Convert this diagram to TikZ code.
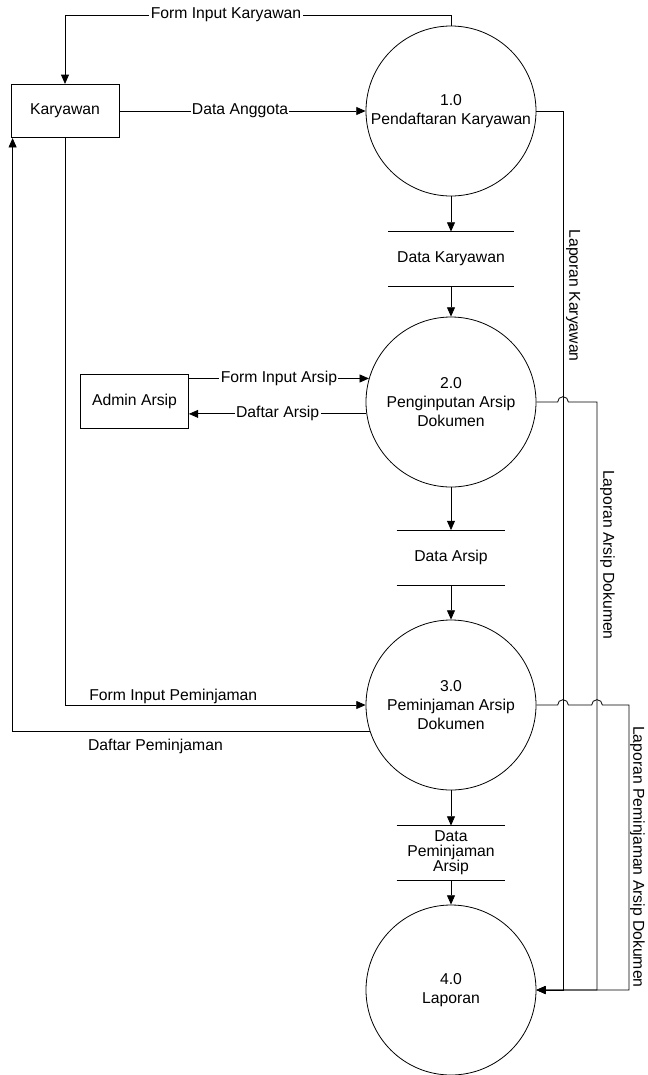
\documentclass[tikz,border=0pt]{standalone}
\usepackage{fontspec}
\setmainfont{Liberation Sans}
\usetikzlibrary{arrows.meta,calc,positioning}

\begin{document}
\begin{tikzpicture}[x=0.75pt,y=-0.75pt,line width=0.6pt,
every node/.style={font=\fontsize{11.8}{14.5}\selectfont},
entity/.style={
rectangle,
draw,
minimum width=81pt,
minimum height=40pt
},
process/.style={
circle,
draw,
minimum size=127.5pt,
inner sep=0pt,
align=center
},
store/.style={
minimum width=81pt,
minimum height=40.5pt,
inner sep=0pt,
align=center,
append after command={(\tikzlastnode.north west) edge (\tikzlastnode.north east)
(\tikzlastnode.south west) edge (\tikzlastnode.south east)}
},
flow/.style={->,>={Triangle[length=7pt,width=6pt]}},
lbl/.style={fill=white,inner sep=1pt},
vlbl/.style={rotate=-90,anchor=south,inner sep=2pt},
]
\useasboundingbox (0,0) rectangle (648,1075);
\node (karyawan) [entity] at (65,111) {Karyawan};
\node (admin) [entity] at (134.5,401.5) {Admin Arsip};
\node (reg) [process] at (451,111) {1.0\\Pendaftaran Karyawan};
\node (input) [process] at (451,402) {2.0\\Penginputan Arsip\\Dokumen};
\node (pinjam) [process] at (451,705) {3.0\\Peminjaman Arsip\\Dokumen};
\node (lap) [process] at (451,990) {4.0\\Laporan};
\node (dkar) [store,minimum width=93.75pt] at (451,259) {Data Karyawan};
\node (darsip) [store] at (451,557.5) {Data Arsip};
\node (dpinjam) [store,font=\fontsize{11.8}{11.2}\selectfont] at (451,853) {Data\\Peminjaman\\Arsip};
\coordinate (rk) at (563,0);
\coordinate (ra) at (597,0);
\coordinate (rp) at (629,0);
\draw[flow] (reg.north) -- (reg.north |- 0,15) -- node[lbl,pos=0.583] {Form Input Karyawan} (karyawan.north |- 0,15) -- (karyawan.north);
\draw[flow] (karyawan.east) -- node[lbl,pos=0.49] {Data Anggota} (reg.west);
\draw[flow] (reg.south) -- (dkar.north);
\draw[flow] (dkar.south) -- (input.north);
\draw[flow] (input.164 -| admin.east) -- node[lbl] {Form Input Arsip} (input.164);
\draw[flow] (input.188) -- node[lbl] {Daftar Arsip} (input.188 -| admin.east);
\draw[flow] (input.south) -- (darsip.north);
\draw[flow] (darsip.south) -- (pinjam.north);
\draw[flow] (karyawan.south) -- (karyawan.south |- pinjam.west) -- node[above,inner sep=1pt,pos=0.36] {Form Input Peminjaman} (pinjam.west);
\draw[flow] (pinjam.198) -| node[below=2pt,pos=0.3] {Daftar Peminjaman} ($(karyawan.south west)+(1.5pt,0)$);
\draw[flow] (pinjam.south) -- (dpinjam.north);
\draw[flow] (dpinjam.south) -- (lap.north);
\draw[flow] (reg.east) -- (reg.east -| rk) -- node[vlbl,pos=0.21] {Laporan Karyawan} (lap.east -| rk) -- (lap.east);
\draw[flow] (input.east) -- ($(input.east -| rk)+(-4pt,0)$) arc[start angle=180,end angle=0,radius=4pt] -- (input.east -| ra) -- node[vlbl,pos=0.26] {Laporan Arsip Dokumen} (lap.east -| ra) -- (lap.east);
\draw[flow] (pinjam.east) -- ($(pinjam.east -| rk)+(-4pt,0)$) arc[start angle=180,end angle=0,radius=4pt] -- ($(pinjam.east -| ra)+(-4pt,0)$) arc[start angle=180,end angle=0,radius=4pt] -- (pinjam.east -| rp) -- node[vlbl,pos=0.533,inner sep=0.5pt] {Laporan Peminjaman Arsip Dokumen} (lap.east -| rp) -- (lap.east);
\end{tikzpicture}
\end{document}
